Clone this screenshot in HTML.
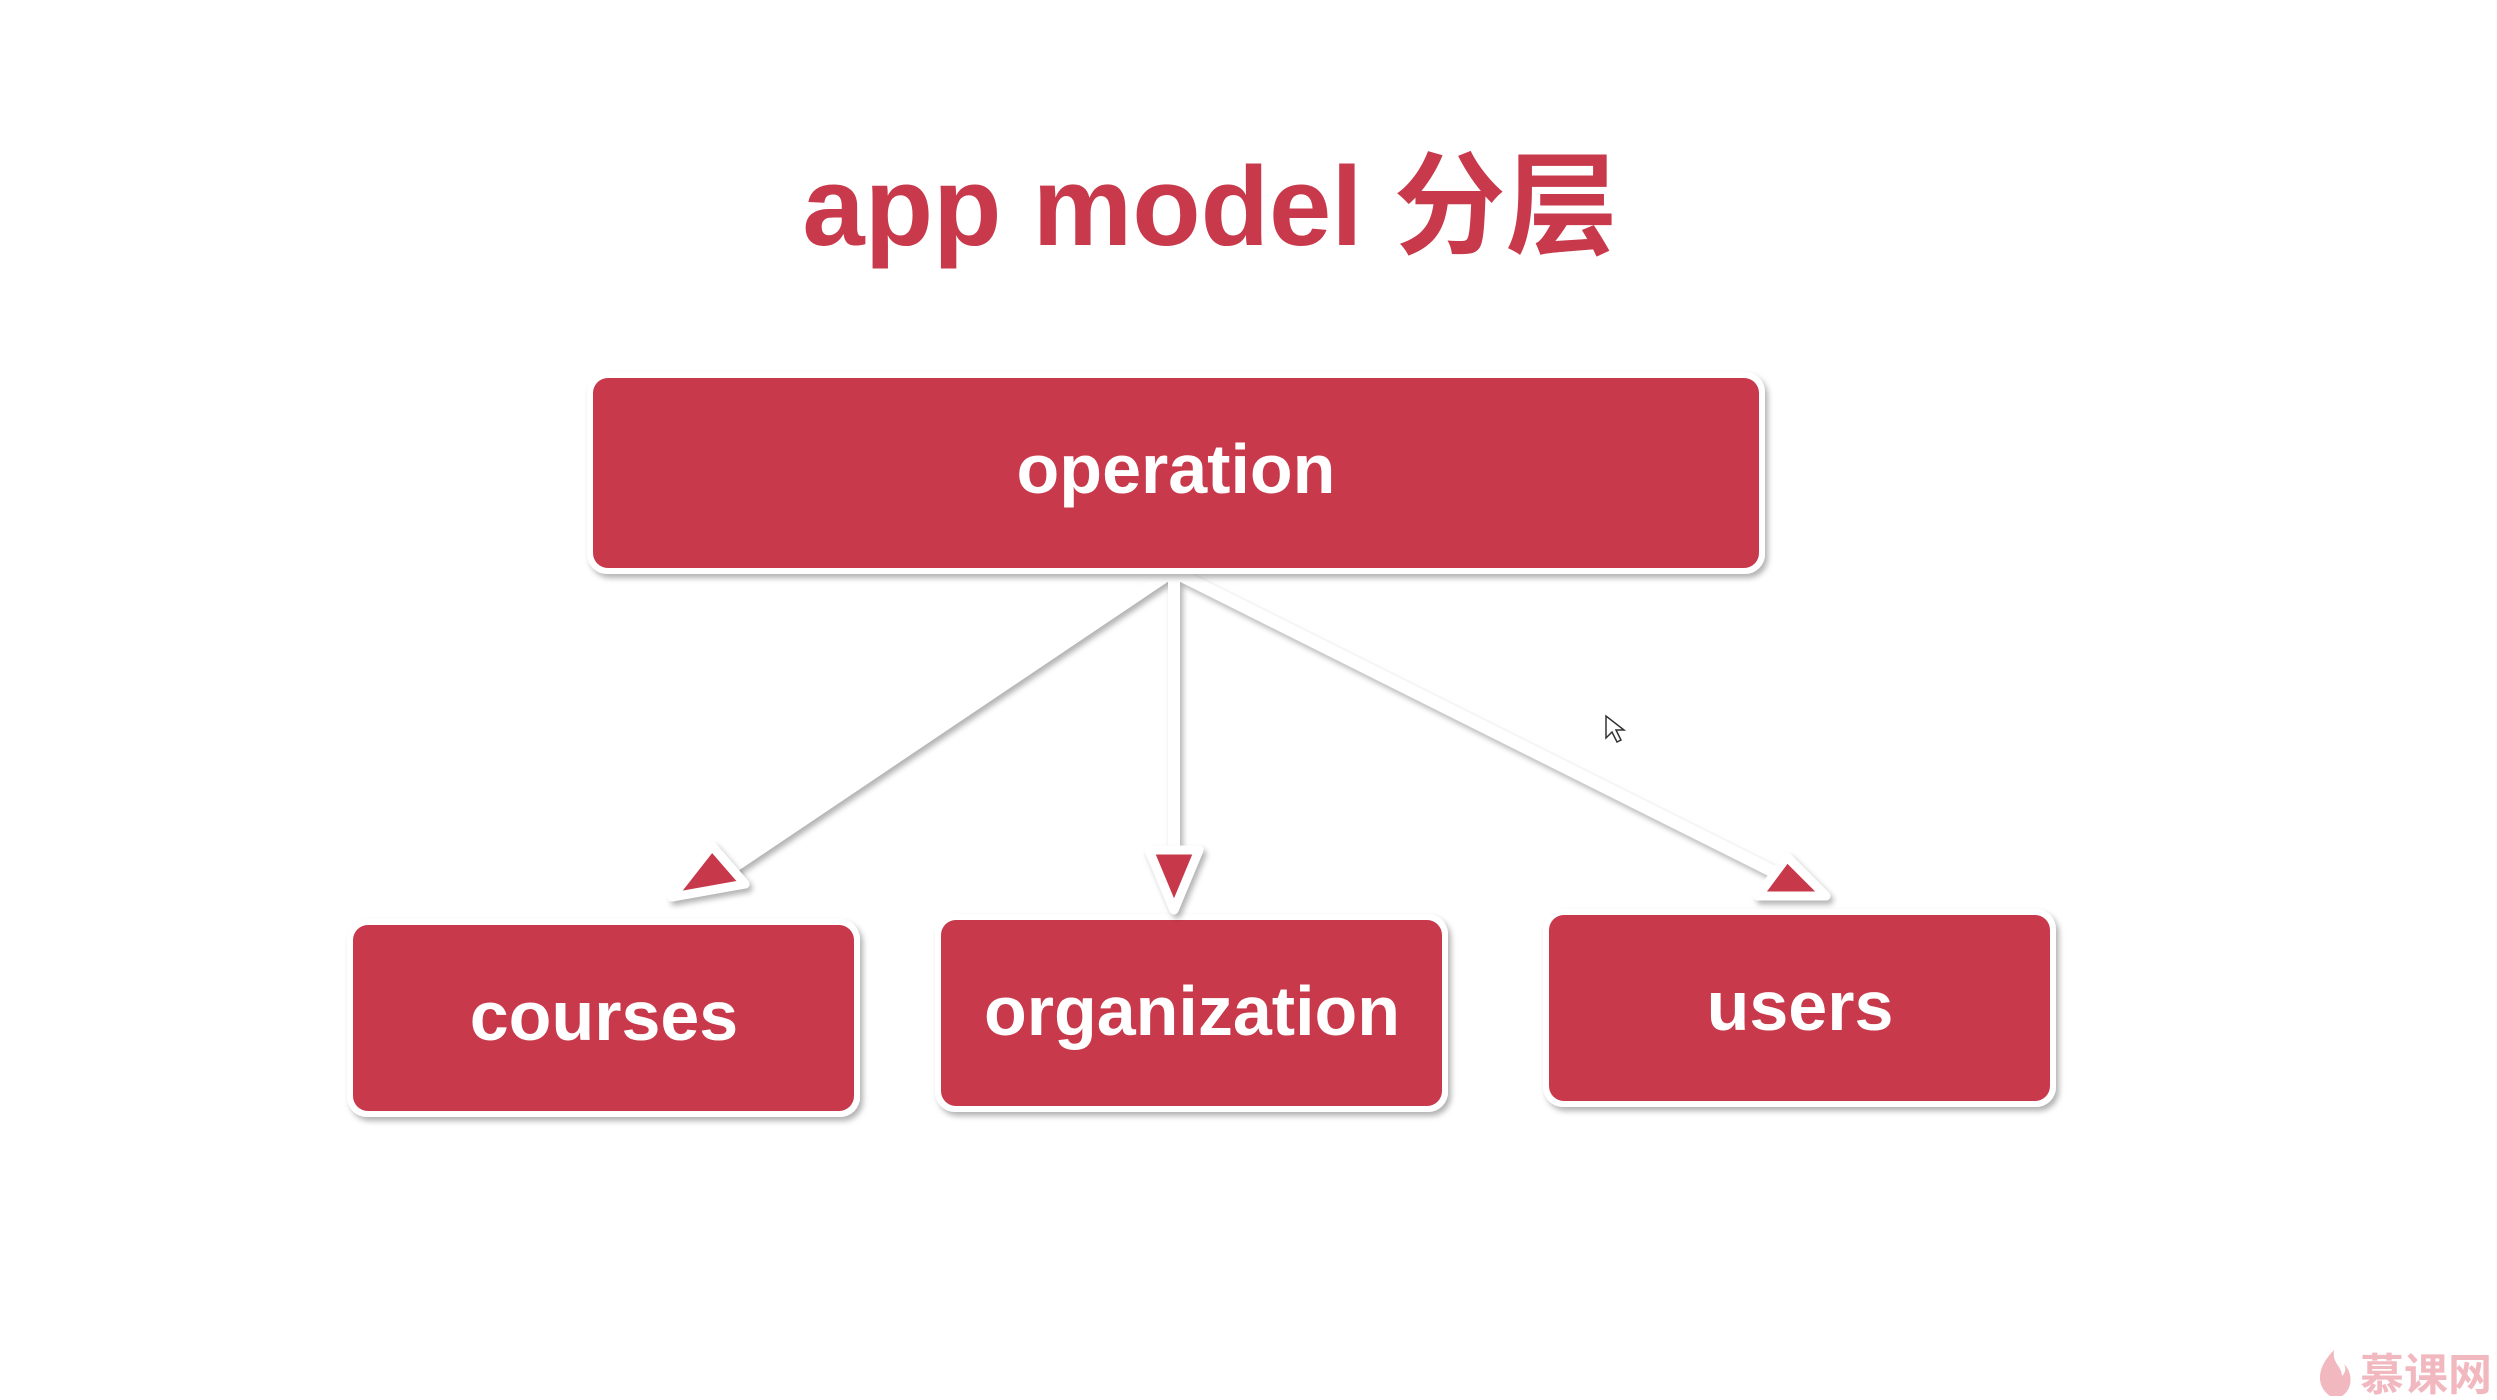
<!DOCTYPE html>
<html><head><meta charset="utf-8"><style>
html,body{margin:0;padding:0;background:#fff;width:2497px;height:1400px;overflow:hidden}
svg{display:block}
text{font-family:"Liberation Sans","Noto Sans CJK SC",sans-serif;font-weight:bold}
</style></head><body>
<svg width="2497" height="1400" viewBox="0 0 2497 1400" xmlns="http://www.w3.org/2000/svg">
<defs>
<filter id="sh" x="-10%" y="-20%" width="120%" height="140%"><feDropShadow dx="3" dy="4" stdDeviation="3" flood-color="#000" flood-opacity="0.3"/></filter>
</defs>
<text x="1210" y="245" font-size="112" fill="#c8394b" text-anchor="middle">app model 分层</text>

<g filter="url(#sh)" stroke="#fff" stroke-width="12" fill="none" stroke-linecap="round">
<line x1="1170" y1="573" x2="724" y2="873"/>
<line x1="1174" y1="573" x2="1174" y2="855"/>
<line x1="1176" y1="573" x2="1780" y2="875"/>
</g>

<g filter="url(#sh)">
<rect x="587" y="372" width="1178" height="202" rx="20" fill="#fff"/>
<rect x="347" y="919" width="513" height="198" rx="20" fill="#fff"/>
<rect x="935" y="914" width="513" height="198" rx="20" fill="#fff"/>
<rect x="1543" y="909" width="513" height="198" rx="20" fill="#fff"/>
</g>
<rect x="593" y="378" width="1166" height="190" rx="15" fill="#c8394b"/>
<rect x="353" y="925" width="501" height="186" rx="15" fill="#c8394b"/>
<rect x="941" y="920" width="501" height="186" rx="15" fill="#c8394b"/>
<rect x="1549" y="915" width="501" height="186" rx="15" fill="#c8394b"/>

<g filter="url(#sh)" stroke="#fff" stroke-width="9" stroke-linejoin="round" fill="#c8394b">
<polygon points="712,846 672,897 745,884"/>
<polygon points="1149,850 1199,850 1174,910"/>
<polygon points="1787,857 1758,896 1826,896"/>
</g>

<text x="1176" y="493" font-size="70" fill="#fff" text-anchor="middle">operation</text>
<text x="604" y="1040" font-size="70" fill="#fff" text-anchor="middle">courses</text>
<text x="1192" y="1035" font-size="70" fill="#fff" text-anchor="middle">organization</text>
<text x="1800" y="1030" font-size="70" fill="#fff" text-anchor="middle">users</text>

<path d="M1606 716 l0 22 l6 -6 l5 10 l4 -2 l-5 -10 l8 0 z" fill="#fff" stroke="#333" stroke-width="1.5"/>
<path d="M2330 1396 c-14 -10 -14 -28 4 -46 c-2 14 8 16 8 26 c4 -4 4 -8 2 -12 c10 10 8 26 -2 32 z" fill="#f2b8c0"/>
<text x="2492" y="1390" font-size="44" fill="#f2b8c0" text-anchor="end" font-weight="normal">慕课网</text>
</svg>
</body></html>
